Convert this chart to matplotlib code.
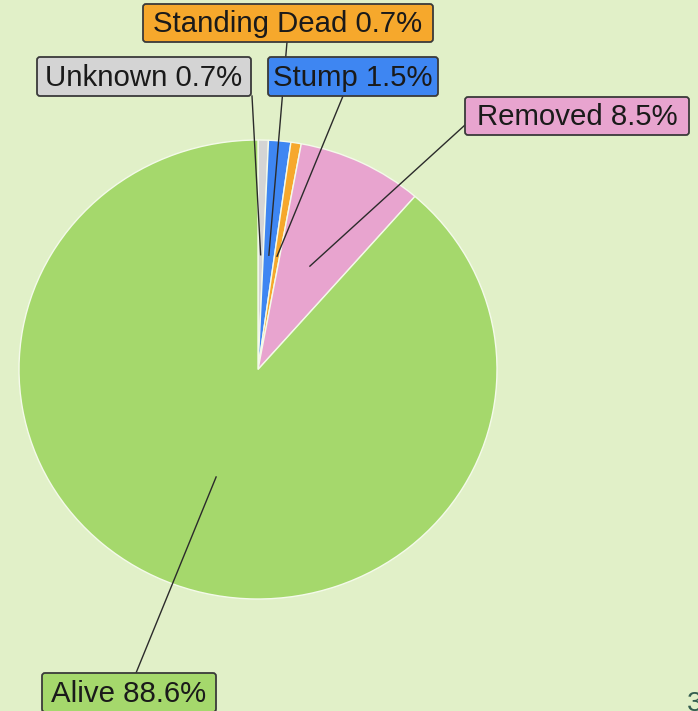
import numpy as np
import matplotlib
matplotlib.use("Agg")
import matplotlib.pyplot as plt
from matplotlib.patches import FancyBboxPatch

# slice data, clockwise from 12 o'clock
categories = ["Unknown", "Stump", "Standing Dead", "Removed", "Alive"]
shares = [0.7, 1.5, 0.7, 8.5, 88.6]
colors = ["#d4d4d4", "#3e86f2", "#f6a82c", "#e8a4cf", "#a5d86c"]

# label layout in image pixels (x0, y0, x1, y1), origin top-left
label_boxes = [
    (37, 57, 251, 96),
    (268, 57, 438, 96),
    (143, 4, 433, 42),
    (465, 97, 689, 135),
    (42, 673, 216, 712),
]
# where each leader line touches its box
label_anchors = [(252, 96), (343, 96), (287, 42), (465, 125), (136, 673)]
# slice each leader line points at (the original has Stump / Standing Dead crossed)
line_target = [0, 2, 1, 3, 4]

W, H = 698, 711
BG = "#e1f0c8"

fig = plt.figure(figsize=(W / 100, H / 100), dpi=100)
fig.patch.set_facecolor(BG)

# pie axes, slightly wider than tall like the reference
pie_left, pie_right, pie_top, pie_bottom = 19, 497, 140, 599
ax = fig.add_axes([pie_left / W, (H - pie_bottom) / H,
                   (pie_right - pie_left) / W, (pie_bottom - pie_top) / H])
ax.pie(shares, colors=colors, startangle=90, counterclock=False,
       wedgeprops=dict(edgecolor="#f4faea", linewidth=1.0))
ax.set_aspect("auto")
ax.set_xlim(-1, 1)
ax.set_ylim(-1, 1)
ax.axis("off")

# overlay in image pixel coordinates for labels and leader lines
ov = fig.add_axes([0, 0, 1, 1], facecolor="none")
ov.set_xlim(0, W)
ov.set_ylim(H, 0)
ov.axis("off")

cum = np.cumsum(shares)
mids = cum - np.array(shares) / 2
theta = np.deg2rad(90 - 360 * mids / 100)
inner = np.column_stack([0.5 * np.cos(theta), 0.5 * np.sin(theta)])
inner_px = ov.transData.inverted().transform(ax.transData.transform(inner))

for i, cat in enumerate(categories):
    tgt = inner_px[line_target[i]]
    ax_pt = label_anchors[i]
    ov.plot([tgt[0], ax_pt[0]], [tgt[1], ax_pt[1]], color="#2b2b2b", lw=1.0, zorder=2)

    x0, y0, x1, y1 = label_boxes[i]
    box = FancyBboxPatch((x0, y0), x1 - x0, y1 - y0,
                         boxstyle="round,pad=0,rounding_size=3",
                         facecolor=colors[i], edgecolor="#3a3a3a", lw=1.3, zorder=3)
    ov.add_patch(box)
    ov.text((x0 + x1) / 2, (y0 + y1) / 2 + 1, f"{cat} {shares[i]}%",
            ha="center", va="center", fontsize=21.2,
            family="Liberation Sans", color="#1a1a1a", zorder=4)

# stray page number, cut off at the bottom right as in the reference
ov.text(687, 704, "3", ha="left", va="center", fontsize=20,
        family="Liberation Sans", color="#355e50")

fig.savefig("out.png", dpi=100, facecolor=BG)
